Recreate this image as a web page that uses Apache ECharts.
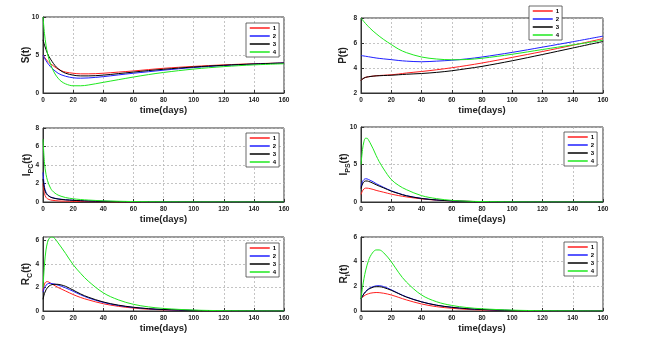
<!DOCTYPE html>
<html><head><meta charset="utf-8">
<script src="https://cdn.jsdelivr.net/npm/echarts@6/dist/echarts.min.js"></script>
<style>html,body{margin:0;padding:0;background:#fff}#c{width:655px;height:349px}</style>
</head><body><div id="c"></div>
<script>
var time = [0,1,2,3,4,5,6,8,10,12,15,20,25,30,40,50,60,70,80,100,120,140,160];
var seriesNames = ['1','2','3','4'];
var xTicks = [0,20,40,60,80,100,120,140,160];

var S1 = [5.0,4.7,4.45,4.2,4.0,3.85,3.7,3.4,3.15,2.95,2.75,2.6,2.52,2.52,2.6,2.75,2.9,3.08,3.25,3.5,3.7,3.85,3.95];
var S2 = [5.0,4.6,4.25,3.95,3.7,3.45,3.25,2.9,2.6,2.4,2.2,2.0,1.95,1.98,2.15,2.38,2.6,2.8,3.0,3.35,3.6,3.8,3.95];
var S3 = [7.0,6.3,5.7,5.2,4.8,4.45,4.15,3.6,3.2,2.9,2.6,2.35,2.25,2.25,2.35,2.55,2.75,2.95,3.12,3.42,3.65,3.82,3.95];
var S4 = [10,7.8,6.3,5.2,4.4,3.8,3.3,2.5,1.95,1.55,1.2,0.95,0.95,1.05,1.4,1.75,2.1,2.42,2.7,3.15,3.47,3.7,3.85];

var P1 = [3.0,3.12,3.2,3.25,3.28,3.3,3.32,3.35,3.38,3.4,3.42,3.46,3.52,3.6,3.72,3.86,4.02,4.2,4.4,4.85,5.32,5.82,6.35];
var P2 = [5.0,4.98,4.96,4.94,4.92,4.9,4.88,4.84,4.8,4.77,4.73,4.67,4.6,4.55,4.5,4.55,4.62,4.73,4.88,5.25,5.67,6.1,6.55];
var P3 = [3.0,3.12,3.2,3.25,3.28,3.3,3.32,3.35,3.37,3.38,3.4,3.42,3.46,3.5,3.56,3.65,3.78,3.95,4.13,4.58,5.08,5.6,6.12];
var P4 = [8.0,7.85,7.7,7.56,7.43,7.3,7.18,6.95,6.75,6.55,6.28,5.88,5.5,5.23,4.88,4.72,4.66,4.68,4.78,5.1,5.48,5.85,6.22];

var IPC1 = [2.0,0.9,0.5,0.35,0.27,0.22,0.19,0.15,0.12,0.1,0.09,0.07,0.05,0.04,0.025,0.015,0.01,0.005,0.003,0,0,0,0];
var IPC2 = [3.2,1.6,1.05,0.8,0.65,0.55,0.48,0.4,0.34,0.3,0.25,0.19,0.15,0.12,0.08,0.05,0.03,0.02,0.01,0.005,0,0,0];
var IPC3 = [2.5,1.4,0.95,0.75,0.62,0.52,0.46,0.38,0.32,0.28,0.23,0.18,0.14,0.11,0.07,0.045,0.03,0.02,0.01,0.005,0,0,0];
var IPC4 = [6.8,4.2,3.0,2.3,1.85,1.5,1.25,0.95,0.75,0.62,0.48,0.35,0.27,0.21,0.13,0.08,0.05,0.03,0.02,0.01,0.005,0,0];

var IPS1 = [1.0,1.5,1.75,1.85,1.85,1.82,1.78,1.68,1.55,1.45,1.3,1.05,0.85,0.68,0.42,0.25,0.15,0.09,0.05,0.02,0.01,0,0];
var IPS2 = [2.0,2.7,3.0,3.1,3.08,3.0,2.9,2.7,2.45,2.25,1.95,1.5,1.15,0.85,0.48,0.27,0.15,0.08,0.05,0.015,0.005,0,0];
var IPS3 = [1.8,2.4,2.7,2.8,2.8,2.75,2.68,2.5,2.3,2.12,1.88,1.45,1.12,0.83,0.47,0.27,0.15,0.08,0.05,0.015,0.005,0,0];
var IPS4 = [5.0,7.0,8.1,8.5,8.5,8.25,7.9,7.1,6.2,5.4,4.4,3.0,2.2,1.65,0.85,0.45,0.22,0.11,0.06,0.02,0.005,0,0];

var RC1 = [1.7,2.3,2.48,2.5,2.45,2.38,2.3,2.15,2.0,1.88,1.7,1.4,1.15,0.95,0.62,0.4,0.25,0.15,0.1,0.04,0.015,0.005,0];
var RC2 = [1.6,2.0,2.2,2.3,2.35,2.35,2.33,2.28,2.2,2.12,1.97,1.68,1.38,1.12,0.73,0.47,0.3,0.19,0.12,0.05,0.02,0.005,0];
var RC3 = [1.0,1.5,1.8,2.0,2.12,2.2,2.25,2.28,2.27,2.22,2.1,1.78,1.45,1.18,0.77,0.5,0.32,0.2,0.13,0.05,0.02,0.005,0];
var RC4 = [2.0,4.0,5.2,5.85,6.15,6.28,6.3,6.15,5.8,5.45,4.9,3.95,3.2,2.55,1.55,0.95,0.57,0.35,0.22,0.08,0.03,0.01,0];

var RI1 = [1.0,1.12,1.22,1.3,1.36,1.4,1.44,1.48,1.5,1.49,1.44,1.3,1.1,0.9,0.57,0.35,0.22,0.13,0.08,0.03,0.01,0,0];
var RI2 = [1.0,1.22,1.42,1.58,1.7,1.8,1.88,1.98,2.04,2.05,1.98,1.72,1.42,1.15,0.75,0.47,0.3,0.19,0.12,0.045,0.015,0.005,0];
var RI3 = [1.0,1.2,1.4,1.55,1.67,1.76,1.83,1.93,1.97,1.97,1.9,1.68,1.4,1.13,0.74,0.47,0.3,0.19,0.12,0.045,0.015,0.005,0];
var RI4 = [1.0,1.9,2.65,3.25,3.72,4.1,4.4,4.78,4.95,4.95,4.72,4.0,3.1,2.35,1.3,0.75,0.45,0.28,0.18,0.07,0.025,0.01,0];

var colors = ['#ff1f1f','#1f1fff','#000000','#1fe81f'];

var panels = [
  {data:[S1,S2,S3,S4], name:'{m|S(t)}', min:0, max:10, interval:5,
   grid:{left:43, top:17, width:241, height:76}, legend:{left:246, top:23}, nameGap:9},
  {data:[P1,P2,P3,P4], name:'{m|P(t)}', min:2, max:8, interval:2,
   grid:{left:361, top:18, width:242, height:75}, legend:{left:529, top:6}, nameGap:10},
  {data:[IPC1,IPC2,IPC3,IPC4], name:'{m|I}{s|PC}{m|(t)}', min:0, max:8, interval:2,
   grid:{left:43, top:128, width:241, height:74}, legend:{left:246, top:133}, nameGap:8},
  {data:[IPS1,IPS2,IPS3,IPS4], name:'{m|I}{s|PS}{m|(t)}', min:0, max:10, interval:5,
   grid:{left:361, top:127, width:242, height:75}, legend:{left:564, top:132}, nameGap:9},
  {data:[RC1,RC2,RC3,RC4], name:'{m|R}{s|C}{m|(t)}', min:0, max:6.3, interval:2,
   grid:{left:43, top:237, width:241, height:74}, legend:{left:246, top:243}, nameGap:9},
  {data:[RI1,RI2,RI3,RI4], name:'{m|R}{s|I}{m|(t)}', min:0, max:6, interval:2,
   grid:{left:361, top:237, width:242, height:74}, legend:{left:564, top:242}, nameGap:9}
];

var font = 'Liberation Sans, Arial, sans-serif';
var grids = [], xAxes = [], yAxes = [], series = [], legends = [];
panels.forEach(function(p, g){
  grids.push(Object.assign({show:true, borderColor:'#333', borderWidth:1, backgroundColor:'#fff'}, p.grid));
  var common = {
    gridIndex:g,
    axisLine:{show:true, lineStyle:{color:'#333', width:1}},
    axisTick:{show:true, inside:true, length:3, lineStyle:{color:'#333'}},
    splitLine:{show:true, lineStyle:{color:'#b5b5b5', width:0.8, type:[2,2]}},
    axisLabel:{fontSize:6.5, fontWeight:'bold', color:'#222', fontFamily:font, margin:4}
  };
  xAxes.push(Object.assign({}, common, {type:'value', min:0, max:160, interval:20,
    name:'time(days)', nameLocation:'middle', nameGap:10,
    nameTextStyle:{fontSize:9.5, fontWeight:'bold', color:'#222', fontFamily:font}}));
  yAxes.push(Object.assign({}, common, {type:'value', min:p.min, max:p.max, interval:p.interval,
    axisLabel:Object.assign({}, common.axisLabel, {showMaxLabel: p.max % p.interval === 0}),
    name:p.name, nameLocation:'middle', nameRotate:90, nameGap:p.nameGap, nameMoveOverlap:false,
    nameTextStyle:{fontFamily:font, rich:{
      m:{fontSize:10, fontWeight:'bold', color:'#222', fontFamily:font, padding:[0,0,3,0]},
      s:{fontSize:7, fontWeight:'bold', color:'#222', fontFamily:font, verticalAlign:'bottom'}
    }}}));
  p.data.forEach(function(arr, k){
    series.push({type:'line', name:seriesNames[k], xAxisIndex:g, yAxisIndex:g,
      data: time.map(function(t,i){return [t, arr[i]];}),
      symbol:'none', smooth:0.35, animation:false,
      lineStyle:{width:1, color:colors[k]}, itemStyle:{color:colors[k]}});
  });
  legends.push({data:seriesNames, orient:'vertical', left:p.legend.left, top:p.legend.top,
    backgroundColor:'#fff', borderColor:'#444', borderWidth:0.8, padding:[2,3,2,3],
    itemGap:2, itemWidth:20, itemHeight:6, selectedMode:false,
    itemStyle:{opacity:0}, lineStyle:{width:1.5},
    textStyle:{fontSize:6, fontWeight:'bold', color:'#000', fontFamily:font, padding:[0,0,0,-2]}});
});

var chart = echarts.init(document.getElementById('c'), null, {renderer:'canvas'});
chart.setOption({backgroundColor:'#fff', animation:false, grid:grids, xAxis:xAxes, yAxis:yAxes, series:series, legend:legends});
</script></body></html>
